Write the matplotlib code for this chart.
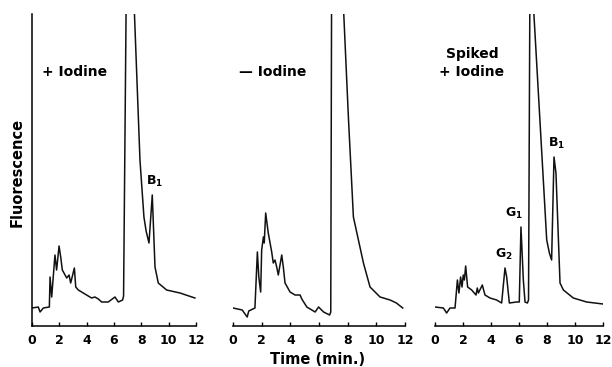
import numpy as np
import matplotlib.pyplot as plt

plt.rcParams['font.family'] = ['DejaVu Sans']
plt.rcParams['font.weight'] = 'bold'
plt.rcParams['mathtext.default'] = 'bf'

# Retention time (min) and fluorescence (arbitrary units).
# Values of 340 stand for the solvent-front peak that runs off scale.
t_iodine = [0.0, 0.46, 0.59, 0.83, 1.27, 1.32, 1.44, 1.68, 1.8, 1.98, 2.1, 2.22,
            2.54, 2.71, 2.83, 3.1, 3.2, 3.39, 3.75, 4.36, 4.6, 4.85, 5.1, 5.58,
            6.07, 6.32, 6.63, 6.7, 6.9, 7.42, 7.9, 8.19, 8.35, 8.56, 8.8, 9.0,
            9.24, 9.85, 10.83, 11.92]
f_iodine = [18, 19, 14, 18, 19, 49, 29, 71, 56, 80, 69, 56,
            48, 51, 43, 58, 39, 36, 33, 28, 29, 27, 24, 24,
            29, 24, 26, 30, 340, 340, 166, 109, 95, 83, 131, 59,
            43, 36, 33, 28]

t_no_iodine = [0.0, 0.64, 0.99, 1.1, 1.53, 1.7, 1.8, 1.93, 2.0, 2.12, 2.18, 2.28,
               2.46, 2.7, 2.81, 2.93, 3.05, 3.16, 3.4, 3.51, 3.63, 3.98, 4.33,
               4.68, 4.8, 5.15, 5.5, 5.73, 5.97, 6.32, 6.74, 6.82, 6.88, 7.64,
               8.05, 8.4, 8.75, 9.1, 9.56, 10.26, 10.96, 11.4, 11.84]
f_no_iodine = [18, 16, 9, 15, 18, 74, 49, 34, 76, 89, 83, 113,
               93, 74, 63, 66, 59, 51, 71, 59, 43, 34, 31,
               31, 27, 19, 16, 14, 19, 14, 11, 14, 340, 340,
               209, 109, 86, 63, 39, 29, 26, 23, 18]

t_spiked = [0.0, 0.6, 0.83, 1.07, 1.43, 1.6, 1.71, 1.83, 1.93, 2.02, 2.1, 2.19,
            2.33, 2.62, 2.93, 3.02, 3.1, 3.38, 3.57, 3.93, 4.4, 4.76, 5.0, 5.12,
            5.31, 5.83, 6.02, 6.14, 6.31, 6.43, 6.6, 6.68, 6.78, 6.95, 7.98,
            8.17, 8.33, 8.5, 8.64, 8.93, 9.17, 9.88, 10.83, 12.0]
f_spiked = [19, 18, 13, 18, 18, 46, 33, 49, 39, 51, 46, 60,
            39, 36, 31, 38, 33, 41, 31, 28, 26, 23, 58, 49,
            23, 24, 24, 99, 46, 24, 23, 26, 340, 340, 86,
            73, 66, 169, 153, 43, 36, 28, 24, 22]

panel_titles = ['+ Iodine', '\u2014 Iodine', 'Spiked\n+ Iodine']
peak_labels = [
    [('B$_1$', 8.8)],
    [],
    [('G$_2$', 5.0), ('G$_1$', 6.14), ('B$_1$', 8.5)],
]
x_ticks = [0, 2, 4, 6, 8, 10, 12]

traces = [(t_iodine, f_iodine), (t_no_iodine, f_no_iodine), (t_spiked, f_spiked)]

fig = plt.figure(figsize=(6.12, 3.67), dpi=100)
rects = [
    [32 / 612, 41 / 367, 164 / 612, 312 / 367],
    [233 / 612, 41 / 367, 172 / 612, 312 / 367],
    [435 / 612, 41 / 367, 168 / 612, 312 / 367],
]
label_dx = {'G$_1$': -5, 'G$_2$': -1, 'B$_1$': 2}

for i, (rect, (t, f)) in enumerate(zip(rects, traces)):
    ax = fig.add_axes(rect)
    ax.plot(t, f, color='#111111', lw=1.1, solid_joinstyle='round')
    ax.set_xlim(0, 12)
    ax.set_ylim(0, 312)
    ax.set_xticks(x_ticks)
    ax.set_yticks([])
    ax.tick_params(axis='x', direction='in', length=3, width=1, pad=6,
                   labelsize=9)
    for lab in ax.get_xticklabels():
        lab.set_fontweight('bold')
    for side in ['top', 'right']:
        ax.spines[side].set_visible(False)
    ax.spines['left'].set_visible(i == 0)
    for s in ax.spines.values():
        s.set_linewidth(1.1)
    ax.patch.set_visible(False)

    if i < 2:
        ax.text(0.73 if i == 0 else 0.42, 254, panel_titles[i], ha='left',
                va='center', fontsize=10, fontweight='bold')
    else:
        ax.text(2.64, 263, panel_titles[i], ha='center', va='center',
                fontsize=10, fontweight='bold', linespacing=1.35)

    for name, tp in peak_labels[i]:
        fp = np.interp(tp, t, f)
        ax.annotate(name, (tp, fp), xytext=(label_dx[name], 4),
                    textcoords='offset points', ha='center', va='bottom',
                    fontsize=9, fontweight='bold')

fig.text(17 / 612, 1 - 172 / 367, 'Fluorescence', rotation=90, ha='center',
         va='center', fontsize=10.5, fontweight='bold')
fig.text(318 / 612, 1 - 359 / 367, 'Time (min.)', ha='center', va='center',
         fontsize=10.5, fontweight='bold')

fig.savefig('out.png', dpi=100)
